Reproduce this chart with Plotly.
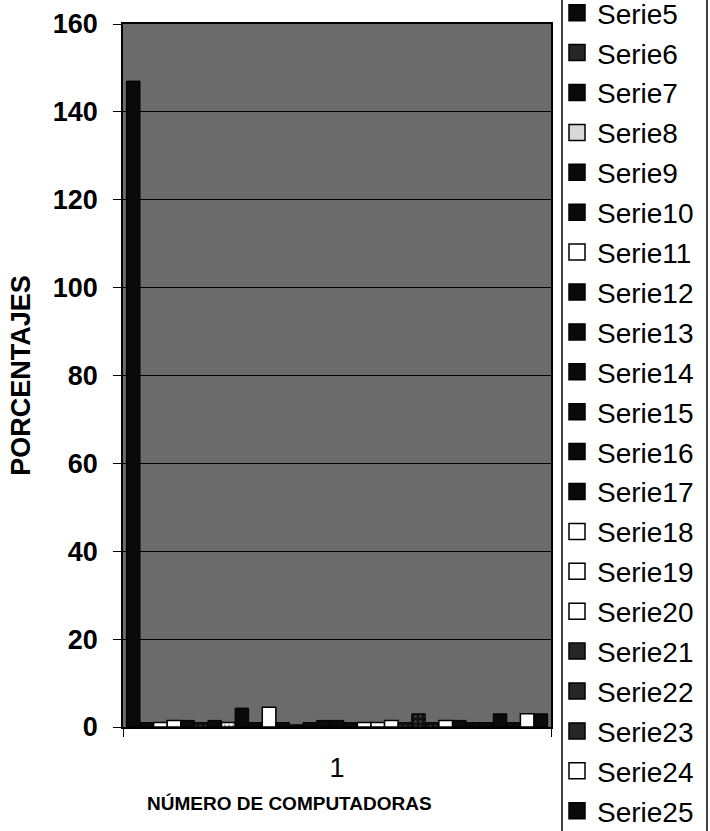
import plotly.graph_objects as go

# ---- data ----
categories = ["1"]
series_names = [f"Serie{i}" for i in range(1, 32)]
series_values = [147, 1, 1, 1.5, 1.5, 1, 1.5, 1, 4.3, 1, 4.5, 1, 0.5, 1, 1.5, 1.5,
                 1, 1, 1, 1.5, 1, 3, 1, 1.5, 1.5, 1, 1, 3, 1, 3, 3]
# grayscale rendering of each series in the scanned chart
series_tone = ["dark", "dark", "white", "white", "dark", "speck", "dark", "dots",
               "dark", "dark", "white", "dark", "dark", "dark", "dark", "dark",
               "dark", "white", "white", "white", "speck", "speck", "speck", "white",
               "dark", "dark", "dark", "dark", "dark", "white", "dark"]
legend_visible = [5 <= i <= 25 for i in range(1, 32)]
y_ticks = [0, 20, 40, 60, 80, 100, 120, 140, 160]
x_title = "NÚMERO DE COMPUTADORAS"
y_title = "PORCENTAJES"

FONT = "Liberation Sans"

TONES = {
    "dark": dict(fill="#0a0a0a", line="black", pattern=None),
    "white": dict(fill="white", line="black", pattern=None),
    "dots": dict(fill="white", line="black", pattern=dict(shape=".", fgcolor="#333", size=4, solidity=0.4)),
    "speck": dict(fill="#111111", line="black", pattern=dict(shape=".", fgcolor="#777", size=5, solidity=0.2)),
}

fig = go.Figure()
for name, val, tone, show in zip(series_names, series_values, series_tone, legend_visible):
    t = TONES[tone]
    marker = dict(color=t["fill"], line=dict(color=t["line"], width=1.5 if tone in ("white", "dots") else 1))
    if t["pattern"]:
        marker["pattern"] = t["pattern"]
    fig.add_trace(go.Bar(x=categories, y=[val], name=name, marker=marker,
                         showlegend=False, legendgroup=name))

# legend entries (square keys like the original legend)
legend_fill = {"dark": "#0a0a0a", "white": "white", "dots": "#d8d8d8", "speck": "#262626"}
for name, tone, show in zip(series_names, series_tone, legend_visible):
    if not show:
        continue
    fig.add_trace(go.Scatter(
        x=[None], y=[None], mode="markers", name=name, legendgroup=name,
        marker=dict(symbol="square", size=16, color=legend_fill[tone],
                    line=dict(color="black", width=1.5)),
        showlegend=True, hoverinfo="skip"))

L, R, T, B = 123, 159, 24, 104
W, H = 710, 831
pw = W - L - R
ph = H - T - B

def px_x(x):
    return (x - L) / pw

def px_y(y):
    return (H - B - y) / ph

fig.update_layout(
    width=W, height=H,
    margin=dict(l=L, r=R, t=T, b=B, autoexpand=False),
    paper_bgcolor="white",
    plot_bgcolor="#6b6b6b",
    barmode="group",
    bargap=0.016,
    bargroupgap=0,
    font=dict(family=FONT, color="black"),
    legend=dict(
        x=px_x(557), xanchor="left",
        y=px_y(-12), yanchor="top",
        font=dict(family=FONT, size=28, color="black"),
        bgcolor="rgba(0,0,0,0)",
        borderwidth=0,
        traceorder="grouped",
        tracegroupgap=0.5,
        itemsizing="trace",
        maxheight=2000,
    ),
    shapes=[
        dict(type="line", xref="paper", yref="paper", x0=px_x(562), x1=px_x(562),
             y0=px_y(-5), y1=px_y(840), line=dict(color="black", width=1.5)),
        dict(type="line", xref="paper", yref="paper", x0=px_x(707), x1=px_x(707),
             y0=px_y(-5), y1=px_y(840), line=dict(color="black", width=1.5)),
    ],
    annotations=[
        dict(text=x_title, xref="paper", yref="paper", x=px_x(289), y=px_y(803),
             xanchor="center", yanchor="middle", showarrow=False,
             font=dict(family=FONT, size=19, weight="bold", color="black")),
    ],
)

fig.update_yaxes(
    range=[0, 160], tickvals=y_ticks,
    ticks="outside", ticklen=8, tickcolor="black", tickwidth=1,
    tickfont=dict(family=FONT, size=27, color="black", weight="bold"),
    ticklabelstandoff=10,
    showgrid=True, gridcolor="black", gridwidth=1,
    showline=True, linecolor="black", linewidth=1.5, mirror=True,
    zeroline=False,
    title=dict(text=y_title, font=dict(family=FONT, size=27, weight="bold", color="black"),
               standoff=14),
)
fig.update_xaxes(
    type="category",
    ticks="outside", ticklen=8, tickcolor="black", tickson="boundaries",
    tickfont=dict(family=FONT, size=27, color="black"),
    ticklabelstandoff=16,
    showgrid=False,
    showline=True, linecolor="black", linewidth=1.5, mirror=True,
)

fig.write_html("out.html")
